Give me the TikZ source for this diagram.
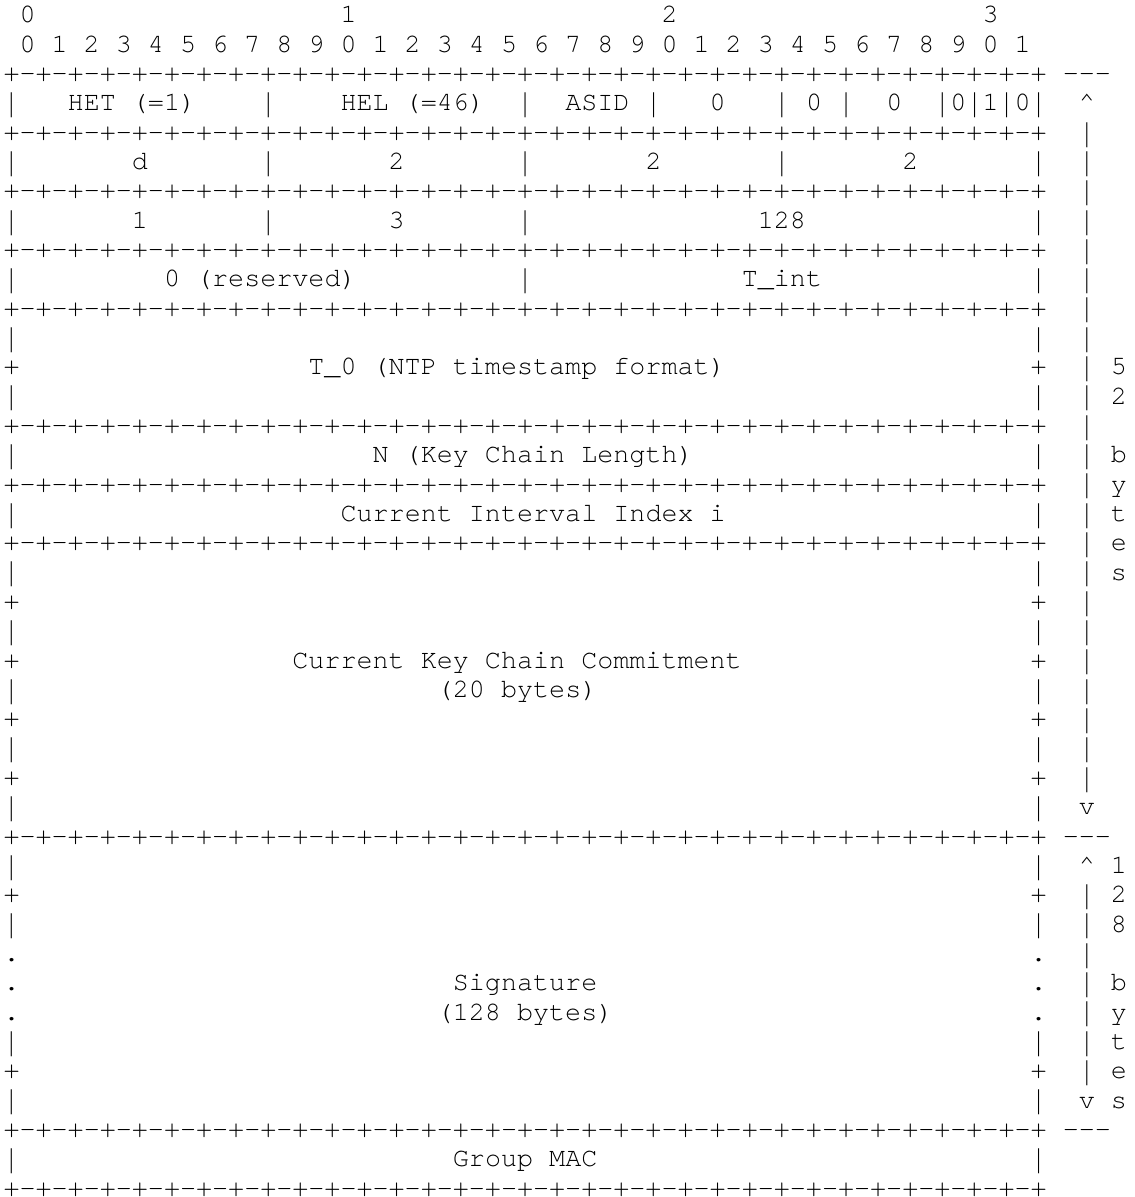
\documentclass[tikz,border=0pt]{standalone}
\usepackage{fontspec}
\usepackage{graphicx}
\setmonofont{TeX Gyre Cursor}
\newdimen\mycw \mycw=16.05pt
\newcommand\sk[1]{\hspace*{#1\mycw}}
\newcommand\vb{\raisebox{-7pt}{\resizebox{\width}{25pt}{\raisebox{\depth}{|}}}}
\newcommand\PMa{+-}
\newcommand\PMb{\PMa\PMa\PMa\PMa\PMa\PMa\PMa\PMa}
\newcommand\BL{\PMb\PMb\PMb\PMb+}
\newcommand\UP{\textasciicircum}
\begin{document}
\begin{tikzpicture}[x=1pt,y=1pt,
  ln/.style={anchor=base west,inner sep=0pt,outer sep=0pt,
    font=\fontsize{26.75}{29.3}\selectfont\ttfamily}]
\useasboundingbox (0,0) rectangle (1135,1197);
\def\X{3.5}
\def\Y#1{{1174-29.325*(#1-1)}}
\node[ln] (l1)  at (\X,\Y{1})  {\sk{1}0\sk{19}1\sk{19}2\sk{19}3};
\node[ln] (l2)  at (\X,\Y{2})  {\sk{1}0 1 2 3 4 5 6 7 8 9 0 1 2 3 4 5 6 7 8 9 0 1 2 3 4 5 6 7 8 9 0 1};
\node[ln] (l3)  at (\X,\Y{3})  {\BL\sk{1}---};
\node[ln] (l4)  at (\X,\Y{4})  {\vb\sk{3}HET (=1)\sk{4}\vb\sk{4}HEL (=46)\sk{2}\vb\sk{2}ASID\sk{1}\vb\sk{3}0\sk{3}\vb\sk{1}0\sk{1}\vb\sk{2}0\sk{2}\vb0\vb1\vb0\vb\sk{2}\UP};
\node[ln] (l5)  at (\X,\Y{5})  {\BL\sk{2}\vb};
\node[ln] (l6)  at (\X,\Y{6})  {\vb\sk{7}d\sk{7}\vb\sk{7}2\sk{7}\vb\sk{7}2\sk{7}\vb\sk{7}2\sk{7}\vb\sk{2}\vb};
\node[ln] (l7)  at (\X,\Y{7})  {\BL\sk{2}\vb};
\node[ln] (l8)  at (\X,\Y{8})  {\vb\sk{7}1\sk{7}\vb\sk{7}3\sk{7}\vb\sk{14}128\sk{14}\vb\sk{2}\vb};
\node[ln] (l9)  at (\X,\Y{9})  {\BL\sk{2}\vb};
\node[ln] (l10) at (\X,\Y{10}) {\vb\sk{9}0 (reserved)\sk{10}\vb\sk{13}T\_int\sk{13}\vb\sk{2}\vb};
\node[ln] (l11) at (\X,\Y{11}) {\BL\sk{2}\vb};
\node[ln] (l12) at (\X,\Y{12}) {\vb\sk{63}\vb\sk{2}\vb};
\node[ln] (l13) at (\X,\Y{13}) {+\sk{18}T\_0 (NTP timestamp format)\sk{19}+\sk{2}\vb\sk{1}5};
\node[ln] (l14) at (\X,\Y{14}) {\vb\sk{63}\vb\sk{2}\vb\sk{1}2};
\node[ln] (l15) at (\X,\Y{15}) {\BL\sk{2}\vb};
\node[ln] (l16) at (\X,\Y{16}) {\vb\sk{22}N (Key Chain Length)\sk{21}\vb\sk{2}\vb\sk{1}b};
\node[ln] (l17) at (\X,\Y{17}) {\BL\sk{2}\vb\sk{1}y};
\node[ln] (l18) at (\X,\Y{18}) {\vb\sk{20}Current Interval Index i\sk{19}\vb\sk{2}\vb\sk{1}t};
\node[ln] (l19) at (\X,\Y{19}) {\BL\sk{2}\vb\sk{1}e};
\node[ln] (l20) at (\X,\Y{20}) {\vb\sk{63}\vb\sk{2}\vb\sk{1}s};
\node[ln] (l21) at (\X,\Y{21}) {+\sk{63}+\sk{2}\vb};
\node[ln] (l22) at (\X,\Y{22}) {\vb\sk{63}\vb\sk{2}\vb};
\node[ln] (l23) at (\X,\Y{23}) {+\sk{17}Current Key Chain Commitment\sk{18}+\sk{2}\vb};
\node[ln] (l24) at (\X,\Y{24}) {\vb\sk{26}(20 bytes)\sk{27}\vb\sk{2}\vb};
\node[ln] (l25) at (\X,\Y{25}) {+\sk{63}+\sk{2}\vb};
\node[ln] (l26) at (\X,\Y{26}) {\vb\sk{63}\vb\sk{2}\vb};
\node[ln] (l27) at (\X,\Y{27}) {+\sk{63}+\sk{2}\vb};
\node[ln] (l28) at (\X,\Y{28}) {\vb\sk{63}\vb\sk{2}v};
\node[ln] (l29) at (\X,\Y{29}) {\BL\sk{1}---};
\node[ln] (l30) at (\X,\Y{30}) {\vb\sk{63}\vb\sk{2}\UP\sk{1}1};
\node[ln] (l31) at (\X,\Y{31}) {+\sk{63}+\sk{2}\vb\sk{1}2};
\node[ln] (l32) at (\X,\Y{32}) {\vb\sk{63}\vb\sk{2}\vb\sk{1}8};
\node[ln] (l33) at (\X,\Y{33}) {.\sk{63}.\sk{2}\vb};
\node[ln] (l34) at (\X,\Y{34}) {.\sk{27}Signature\sk{27}.\sk{2}\vb\sk{1}b};
\node[ln] (l35) at (\X,\Y{35}) {.\sk{26}(128 bytes)\sk{26}.\sk{2}\vb\sk{1}y};
\node[ln] (l36) at (\X,\Y{36}) {\vb\sk{63}\vb\sk{2}\vb\sk{1}t};
\node[ln] (l37) at (\X,\Y{37}) {+\sk{63}+\sk{2}\vb\sk{1}e};
\node[ln] (l38) at (\X,\Y{38}) {\vb\sk{63}\vb\sk{2}v\sk{1}s};
\node[ln] (l39) at (\X,\Y{39}) {\BL\sk{1}---};
\node[ln] (l40) at (\X,\Y{40}) {\vb\sk{27}Group MAC\sk{27}\vb};
\node[ln] (l41) at (\X,\Y{41}) {\BL};
\end{tikzpicture}
\end{document}
